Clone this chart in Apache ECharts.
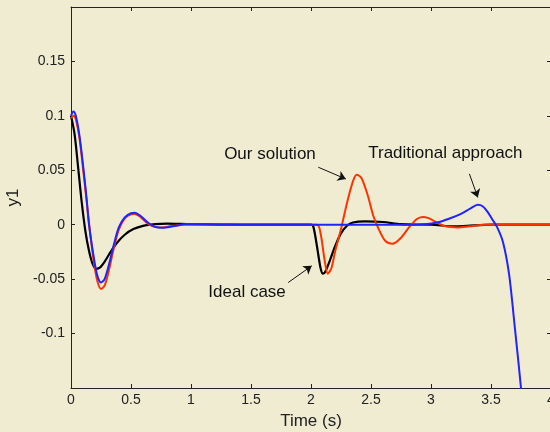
<!DOCTYPE html>
<html>
<head>
<meta charset="utf-8">
<script src="https://cdn.jsdelivr.net/npm/echarts@6/dist/echarts.min.js"></script>
<style>
html,body{margin:0;padding:0;background:#efecd2;}
#chart{width:550px;height:432px;}
</style>
</head>
<body>
<div id="chart"></div>
<script>
// Data: [time (s), y1]
var idealCase = [
  [0,0.1],[0.03,0.083],[0.06,0.052],[0.09,0.02],[0.12,-0.006],[0.15,-0.024],[0.18,-0.036],
  [0.21,-0.0405],[0.24,-0.0395],[0.28,-0.034],[0.33,-0.025],[0.38,-0.017],[0.45,-0.009],
  [0.52,-0.004],[0.6,-0.001],[0.7,0.0005],[0.8,0.001],[1.0,0.0005],[1.5,0],[2.0,0],
  [2.02,-0.002],[2.05,-0.02],[2.08,-0.04],[2.1,-0.045],[2.12,-0.043],[2.16,-0.032],
  [2.2,-0.02],[2.25,-0.008],[2.3,-0.001],[2.35,0.002],[2.45,0.003],[2.6,0.0025],
  [2.75,0.0005],[3.0,0],[3.2,-0.0015],[3.3,-0.001],[3.5,0],[4.0,0]
];
var ourSolution = [
  [0,0.098],[0.02,0.1],[0.04,0.097],[0.07,0.08],[0.1,0.052],[0.13,0.022],[0.16,-0.008],
  [0.19,-0.034],[0.22,-0.052],[0.25,-0.059],[0.28,-0.056],[0.32,-0.04],[0.36,-0.02],
  [0.4,-0.004],[0.45,0.006],[0.5,0.0095],[0.53,0.0098],[0.58,0.007],[0.64,0.001],
  [0.7,-0.002],[0.76,-0.0025],[0.85,-0.001],[1.0,0.0005],[1.5,0],[2.05,0],[2.08,-0.008],
  [2.11,-0.03],[2.14,-0.045],[2.17,-0.04],[2.2,-0.025],[2.25,-0.004],[2.3,0.02],
  [2.35,0.04],[2.38,0.046],[2.42,0.043],[2.47,0.028],[2.52,0.008],[2.56,-0.003],
  [2.62,-0.015],[2.68,-0.0175],[2.75,-0.012],[2.82,-0.002],[2.88,0.005],[2.93,0.0072],
  [2.98,0.006],[3.05,0.002],[3.12,-0.0015],[3.22,-0.0025],[3.32,-0.0015],[3.45,0],[4.0,0]
];
var traditional = [
  [0,0.1],[0.02,0.104],[0.04,0.1],[0.07,0.082],[0.1,0.055],[0.13,0.024],[0.15,0],
  [0.19,-0.03],[0.22,-0.047],[0.25,-0.053],[0.28,-0.05],[0.32,-0.035],[0.36,-0.017],
  [0.4,-0.002],[0.45,0.007],[0.5,0.0105],[0.53,0.011],[0.58,0.008],[0.64,0.002],
  [0.7,-0.002],[0.76,-0.0028],[0.85,-0.0015],[0.95,0.0005],[1.1,0.0005],[1.5,0],
  [2.8,0],[2.95,0.0005],[3.05,0.002],[3.15,0.0055],[3.25,0.01],[3.33,0.015],
  [3.39,0.0183],[3.43,0.017],[3.47,0.012],[3.51,0.005],[3.55,-0.002],[3.6,-0.016],
  [3.65,-0.045],[3.7,-0.096],[3.75,-0.15],[3.78,-0.19]
];
// Annotations (data coordinates)
var labels = [
  {text:'Our solution', at:[1.658,0.0645]},
  {text:'Traditional approach', at:[3.12,0.0654]},
  {text:'Ideal case', at:[1.467,-0.062]}
];
var arrows = [
  [[2.061,0.0528],[2.29,0.042]],
  [[3.32,0.0467],[3.39,0.0251]],
  [[1.81,-0.0531],[2.006,-0.0378]]
];
var xTicks = {min:0, max:4, interval:0.5};
var yTicks = {min:-0.15, max:0.2, interval:0.05};
var hiddenY = [-0.15, 0.2];

var chart = echarts.init(document.getElementById('chart'));
var font = 'Liberation Sans, Arial, sans-serif';
var axisLine = {onZero:false, lineStyle:{color:'#222', width:1}};
function yFmt(v){
  for (var i=0;i<hiddenY.length;i++) if (Math.abs(v-hiddenY[i])<1e-9) return '';
  return String(Math.round(v*1000)/1000);
}
var option = {
  backgroundColor:'#efecd2',
  animation:false,
  grid:{left:71, right:-1, top:7, bottom:44, show:false, containLabel:false, outerBoundsMode:'none'},
  xAxis:[{
    type:'value', position:'bottom', min:xTicks.min, max:xTicks.max, interval:xTicks.interval,
    axisLine:axisLine, axisTick:{inside:true, length:4, lineStyle:{color:'#222'}},
    splitLine:{show:false},
    axisLabel:{color:'#222', fontSize:14, fontFamily:font, margin:5},
    name:'Time (s)', nameLocation:'middle', nameGap:25,
    nameTextStyle:{color:'#222', fontSize:17, fontFamily:font}
  },{
    type:'value', position:'top', min:xTicks.min, max:xTicks.max, interval:xTicks.interval,
    axisLine:axisLine, axisTick:{inside:true, length:4, lineStyle:{color:'#222'}},
    splitLine:{show:false}, axisLabel:{show:false}
  }],
  yAxis:[{
    type:'value', position:'left', min:yTicks.min, max:yTicks.max, interval:yTicks.interval,
    axisLine:axisLine, axisTick:{inside:true, length:4, lineStyle:{color:'#222'}},
    splitLine:{show:false},
    axisLabel:{color:'#222', fontSize:14, fontFamily:font, margin:6, formatter:yFmt},
    name:'y1', nameLocation:'middle', nameGap:44, nameRotate:90,
    nameTextStyle:{color:'#222', fontSize:17, fontFamily:font}
  },{
    type:'value', position:'right', min:yTicks.min, max:yTicks.max, interval:yTicks.interval,
    axisLine:axisLine, axisTick:{inside:true, length:4, lineStyle:{color:'#222'}},
    splitLine:{show:false}, axisLabel:{show:false}
  }],
  series:[
    {type:'line', name:'Ideal case', data:idealCase, showSymbol:false, smooth:0.3,
     lineStyle:{color:'#000', width:2.2}, xAxisIndex:0, yAxisIndex:0,
     markLine:{silent:true, symbol:['none','arrow'], symbolSize:8,
       lineStyle:{color:'#111', width:1, type:'solid'}, label:{show:false},
       data: arrows.map(function(a){return [{coord:a[0]},{coord:a[1]}];})},
     markPoint:{silent:true, symbol:'circle', symbolSize:0,
       label:{show:true, position:'inside', color:'#111', fontSize:17, fontFamily:font,
         formatter:function(p){return p.name;}},
       data: labels.map(function(l){return {name:l.text, coord:l.at};})}
    },
    {type:'line', name:'Our solution', data:ourSolution, showSymbol:false, smooth:0.3,
     lineStyle:{color:'#ff3300', width:2}},
    {type:'line', name:'Traditional approach', data:traditional, showSymbol:false, smooth:0.3,
     lineStyle:{color:'#2222ff', width:2}}
  ]
};
chart.setOption(option);
</script>
</body>
</html>
